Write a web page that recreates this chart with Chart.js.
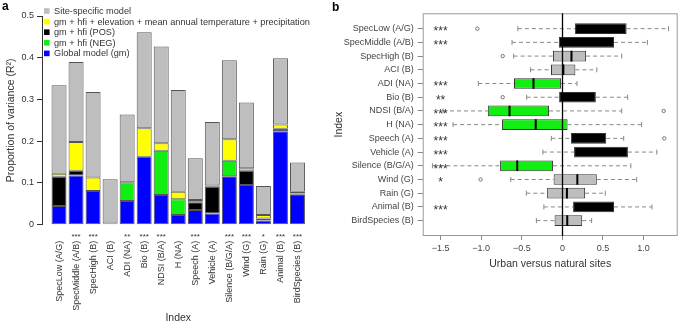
<!DOCTYPE html>
<html>
<head>
<meta charset="utf-8">
<script src="https://cdn.jsdelivr.net/npm/chart.js@4.4.1/dist/chart.umd.min.js"></script>
<style>
  html, body { margin: 0; padding: 0; background: #fff; }
  #wrap { position: relative; width: 685px; height: 324px; background: #fff; overflow: hidden; }
  canvas { position: absolute; top: 0; }
  .tag { position: absolute; font: bold 12px "Liberation Sans", Arial, sans-serif; color: #000; line-height: 12px; }
</style>
</head>
<body>
<div id="wrap">
  <canvas id="chartA" width="330" height="324" style="left:0"></canvas>
  <canvas id="chartB" width="355" height="324" style="left:330px"></canvas>
  <div class="tag" style="left:2px; top:0px">a</div>
  <div class="tag" style="left:332px; top:1px">b</div>
</div>
<script>
'use strict';

// ---- panel a: stacked proportion of variance ----
const indexNames = ['SpecLow (A/G)', 'SpecMiddle (A/B)', 'SpecHigh (B)', 'ACI (B)', 'ADI (NA)', 'Bio (B)',
  'NDSI (B/A)', 'H (NA)', 'Speech (A)', 'Vehicle (A)', 'Silence (B/G/A)', 'Wind (G)', 'Rain (G)',
  'Animal (B)', 'BirdSpecies (B)'];
const gmR2   = [0.045, 0.118, 0.081, 0.000, 0.057, 0.163, 0.071, 0.023, 0.035, 0.027, 0.116, 0.095, 0.010, 0.224, 0.073];
const negR2  = [0, 0, 0, 0, 0.045, 0, 0.106, 0.038, 0, 0, 0.037, 0, 0, 0, 0];
const posR2  = [0.070, 0.011, 0, 0.003, 0, 0, 0, 0, 0.019, 0.064, 0, 0.034, 0.005, 0.006, 0.002];
const envR2  = [0.007, 0.069, 0.032, 0, 0, 0.068, 0.018, 0.018, 0.005, 0.003, 0.052, 0.006, 0.008, 0.010, 0.004];
const siteR2 = [0.212, 0.192, 0.205, 0.106, 0.162, 0.230, 0.232, 0.244, 0.100, 0.152, 0.189, 0.158, 0.070, 0.159, 0.070];
const starsA = ['', '***', '***', '', '**', '***', '***', '', '***', '', '***', '***', '*', '***', '***'];
const yTicksA = [0, 0.1, 0.2, 0.3, 0.4, 0.5];

// ---- panel b: urban vs natural boxplots ----
const whiskLo = [-0.548, -0.62, -0.60, -0.392, -1.035, -0.44, -1.47, -1.346, -0.136, -0.24, -1.60, -0.636, -0.444, -0.228, -0.32];
const boxQ1   = [0.156, -0.044, -0.116, -0.14, -0.596, -0.04, -0.918, -0.743, 0.104, 0.144, -0.767, -0.108, -0.188, 0.132, -0.096];
const boxMed  = [null, null, 0.112, 0.012, -0.356, null, -0.651, -0.328, null, null, -0.556, 0.184, 0.056, null, 0.06];
const boxQ3   = [0.791, 0.636, 0.292, 0.16, -0.016, 0.412, -0.164, 0.064, 0.54, 0.807, -0.116, 0.424, 0.28, 0.636, 0.244];
const whiskHi = [1.307, 1.047, 0.731, 0.424, 0.18, 0.803, 0.731, 0.975, 0.755, 1.163, 0.843, 0.915, 0.528, 1.103, 0.36];
const direction = ['POS', 'POS', 'NS', 'NS', 'NEG', 'POS', 'NEG', 'NEG', 'POS', 'POS', 'NEG', 'NS', 'NS', 'POS', 'NS'];
const outlierRow = [0, 2, 5, 6, 8, 11];
const outlierVal = [-1.047, -0.735, -0.735, 1.247, 1.255, -1.007];
const starsB = ['***', '***', '', '', '***', '**', '***', '***', '***', '***', '***', '*', '', '***', ''];
const xTicksB = [-1.5, -1.0, -0.5, 0, 0.5, 1.0];

const FONT = '"Liberation Sans", Arial, sans-serif';
const TEXT = '#333';
Chart.defaults.font.family = FONT;
Chart.defaults.color = TEXT;

const GREY = '#bebebe', YELLOW = '#ffff00', BLACK = '#000000', GREEN = '#11ee11', BLUE = '#0000ff';
const dirColor = { POS: BLACK, NS: GREY, NEG: GREEN };

const pts = arr => arr.map((v, i) => ({ x: i, y: v }));

const legendA = {
  id: 'legendA',
  afterDraw(chart) {
    const ctx = chart.ctx;
    const items = chart.data.datasets.slice().reverse();
    ctx.save();
    ctx.font = '9.2px ' + FONT;
    ctx.textBaseline = 'middle';
    items.forEach((d, k) => {
      const y = 11 + k * 10.6;
      ctx.fillStyle = d.backgroundColor;
      ctx.fillRect(44, y - 2.8, 5.6, 5.6);
      ctx.fillStyle = TEXT;
      ctx.fillText(d.label, 54, y + 0.5);
    });
    ctx.restore();
  }
};

const starsPluginA = {
  id: 'starsA',
  afterDraw(chart) {
    const ctx = chart.ctx, xs = chart.scales.x;
    ctx.save();
    ctx.font = '8px ' + FONT;
    ctx.textAlign = 'center';
    ctx.fillStyle = TEXT;
    starsA.forEach((s, i) => { if (s) ctx.fillText(s, xs.getPixelForValue(i), 239); });
    ctx.restore();
  }
};

new Chart(document.getElementById('chartA'), {
  type: 'bar',
  data: {
    datasets: [
      { label: 'Global model (gm)', data: pts(gmR2), backgroundColor: BLUE },
      { label: 'gm + hfi (NEG)', data: pts(negR2), backgroundColor: GREEN },
      { label: 'gm + hfi (POS)', data: pts(posR2), backgroundColor: BLACK },
      { label: 'gm + hfi + elevation + mean annual temperature + precipitation', data: pts(envR2), backgroundColor: YELLOW },
      { label: 'Site-specific model', data: pts(siteR2), backgroundColor: GREY }
    ]
  },
  options: {
    responsive: false,
    animation: false,
    layout: { padding: { top: 16, right: 15.5, left: 0, bottom: 0 } },
    datasets: { bar: { borderColor: '#555', borderWidth: 1, borderSkipped: false, categoryPercentage: 1, barPercentage: 0.88 } },
    plugins: { legend: { display: false }, tooltip: { enabled: false } },
    scales: {
      x: {
        type: 'linear', min: -1, max: 15, stacked: true, offset: false,
        grid: { display: false, drawTicks: false, offset: false },
        border: { display: false },
        afterBuildTicks: s => { s.ticks = indexNames.map((_, i) => ({ value: i })); },
        afterFit: s => { s.height = 99.3; },
        ticks: { autoSkip: false, minRotation: 90, maxRotation: 90, padding: 16, font: { size: 9 }, color: TEXT,
          callback: v => indexNames[v] },
        title: { display: true, text: 'Index', font: { size: 10.5 }, color: TEXT, padding: { top: 0, bottom: 0 } }
      },
      y: {
        min: 0, max: 0.5, stacked: true,
        grid: { drawOnChartArea: false, tickLength: 5, color: TEXT },
        border: { color: TEXT },
        afterBuildTicks: s => { s.ticks = yTicksA.map(v => ({ value: v })); },
        afterFit: s => { s.width = 42; },
        ticks: { padding: 3, font: { size: 9 }, color: TEXT, callback: v => (v === 0 ? '0' : v.toFixed(1)) },
        title: { display: true, text: 'Proportion of variance (R²)', font: { size: 10.5 }, color: TEXT, padding: { top: 5, bottom: 0 } }
      }
    }
  },
  plugins: [legendA, starsPluginA]
});

// ---- panel b ----
const frameB = {
  id: 'frameB',
  beforeDatasetsDraw(chart) {
    const { ctx, chartArea: a } = chart;
    ctx.save();
    ctx.strokeStyle = '#999';
    ctx.lineWidth = 1;
    ctx.strokeRect(a.left + 0.5, a.top + 0.5, a.right - a.left - 1, a.bottom - a.top - 1);
    ctx.restore();
  },
  afterDatasetsDraw(chart) {
    const { ctx, chartArea: a } = chart;
    const xs = chart.scales.x, ys = chart.scales.y;
    const x0 = Math.round(xs.getPixelForValue(0)) + 0.5;
    ctx.save();
    ctx.strokeStyle = '#000';
    ctx.lineWidth = 1.3;
    ctx.beginPath();
    ctx.moveTo(x0, a.top);
    ctx.lineTo(x0, a.bottom);
    ctx.stroke();
    ctx.font = '12px ' + FONT;
    ctx.textAlign = 'center';
    ctx.fillStyle = TEXT;
    starsB.forEach((s, i) => { if (s) ctx.fillText(s, xs.getPixelForValue(-1.5), ys.getPixelForValue(i) + 6.8); });
    ctx.restore();
  }
};

const whiskerPts = [];
const capPts = [];
indexNames.forEach((_, i) => {
  whiskerPts.push({ x: whiskLo[i], y: i }, { x: boxQ1[i], y: i }, { x: null, y: i },
    { x: boxQ3[i], y: i }, { x: whiskHi[i], y: i }, { x: null, y: i });
  capPts.push({ x: whiskLo[i], y: i }, { x: whiskHi[i], y: i });
});

new Chart(document.getElementById('chartB'), {
  type: 'bar',
  data: {
    datasets: [
      { type: 'scatter', data: boxMed.map((m, i) => ({ x: m, y: i })), order: 0,
        pointStyle: 'line', pointRotation: 90, pointRadius: 5.3, pointBorderWidth: 2, pointBorderColor: '#000' },
      { type: 'scatter', data: outlierRow.map((r, k) => ({ x: outlierVal[k], y: r })), order: 1,
        pointStyle: 'circle', pointRadius: 1.7, pointBorderWidth: 0.8, pointBorderColor: '#555', pointBackgroundColor: '#fff' },
      { type: 'bar', data: indexNames.map((_, i) => ({ x: [boxQ1[i], boxQ3[i]], y: i })), order: 2,
        backgroundColor: direction.map(d => dirColor[d]), borderColor: '#333', borderWidth: 1,
        borderSkipped: false, categoryPercentage: 1, barPercentage: 0.78 },
      { type: 'scatter', data: capPts, order: 3,
        pointStyle: 'line', pointRotation: 90, pointRadius: 2.5, pointBorderWidth: 1, pointBorderColor: '#888' },
      { type: 'line', data: whiskerPts, order: 4, borderColor: '#888', borderWidth: 1, borderDash: [4, 3],
        pointRadius: 0, fill: false, spanGaps: false }
    ]
  },
  options: {
    indexAxis: 'y',
    responsive: false,
    animation: false,
    layout: { padding: { top: 13.3, right: 1, left: 0, bottom: 0 } },
    plugins: { legend: { display: false }, tooltip: { enabled: false } },
    scales: {
      x: {
        type: 'linear', min: -1.72, max: 1.42,
        grid: { drawOnChartArea: false, tickLength: 4, color: '#888' },
        border: { display: false },
        afterBuildTicks: s => { s.ticks = xTicksB.map(v => ({ value: v })); },
        afterFit: s => { s.height = 88; },
        ticks: { padding: 3, font: { size: 9 }, color: '#444',
          callback: v => (v === 0 ? '0' : v.toFixed(1).replace('-', '\u2212')) },
        title: { display: true, text: 'Urban versus natural sites', font: { size: 10.5 }, color: TEXT,
          padding: { top: 0, bottom: 53.7 } }
      },
      y: {
        type: 'linear', reverse: true, min: -1.12, max: 15.12, offset: false,
        grid: { drawOnChartArea: false, tickLength: 5, color: '#888', offset: false },
        border: { display: false },
        afterBuildTicks: s => { s.ticks = indexNames.map((_, i) => ({ value: i })); },
        afterFit: s => { s.width = 92.7; },
        ticks: { autoSkip: false, padding: 4, font: { size: 9 }, color: '#444', callback: v => indexNames[v] },
        title: { display: true, text: 'Index', font: { size: 10.5 }, color: TEXT, padding: { top: 3, bottom: 0 } }
      }
    }
  },
  plugins: [frameB]
});
</script>
</body>
</html>
